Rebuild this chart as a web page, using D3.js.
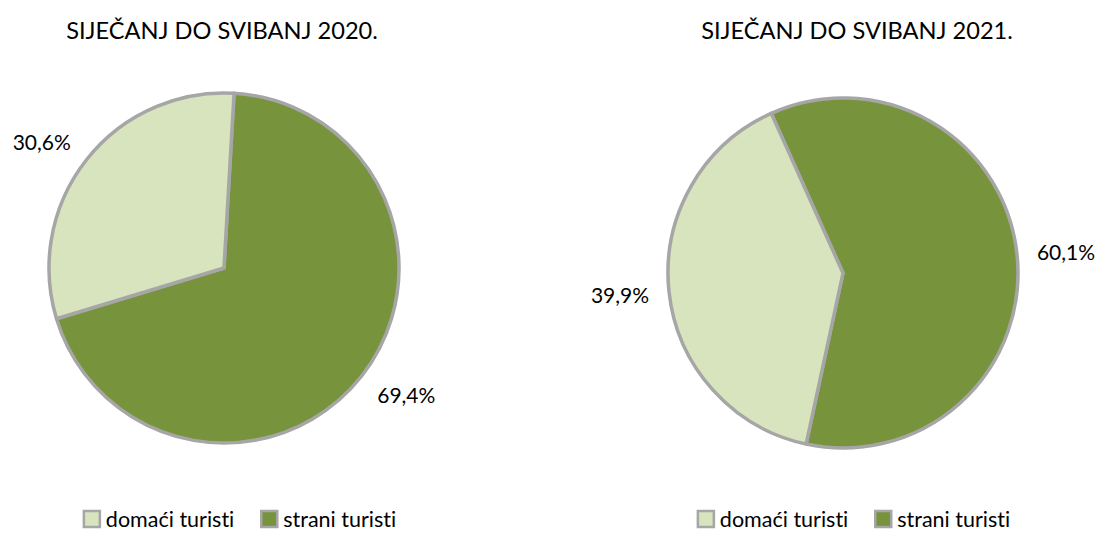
<!DOCTYPE html>
<html>
<head>
<meta charset="UTF-8">
<script src="https://cdn.jsdelivr.net/npm/d3@7"></script>
<style>
  body { margin: 0; background: #fff; }
  text { font-family: Lato, "Open Sans", sans-serif; fill: #000; font-variant-ligatures: none; }
</style>
</head>
<body>
<div id="chart"></div>
<script>
const categories = ['domaći turisti', 'strani turisti']
const titles = ['SIJEČANJ DO SVIBANJ 2020.', 'SIJEČANJ DO SVIBANJ 2021.']
const values2020 = [30.6, 69.4]
const values2021 = [39.9, 60.1]
const labels2020 = ['30,6%', '69,4%']
const labels2021 = ['39,9%', '60,1%']

const width = 1097, height = 533
const colors = d3.scaleOrdinal().domain(categories).range(['#D7E4BD', '#77933C'])
const border = '#A6A6A6'

const svg = d3.select('#chart')
  .append('svg')
  .attr('width', width)
  .attr('height', height)

// one pie per period; strani slice is drawn first (clockwise from its start angle)
const pies = [
  { title: titles[0], values: values2020, labels: labels2020, cx: 224, cy: 268, titleX: 222, legendX: 240, start: 3.3 },
  { title: titles[1], values: values2021, labels: labels2021, cx: 843, cy: 273, titleX: 857, legendX: 854, start: -24.2 }
]
const r = 175

pies.forEach(p => {
  const g = svg.append('g').attr('transform', 'translate(' + p.cx + ',' + p.cy + ')')
  const data = categories.map((c, i) => ({ cat: c, value: p.values[i], label: p.labels[i] }))
  const order = [data[1], data[0]]

  const s = p.start * Math.PI / 180
  const pie = d3.pie()
    .value(d => d.value)
    .sort(null)
    .startAngle(s)
    .endAngle(s + 2 * Math.PI)
  const arc = d3.arc().innerRadius(0).outerRadius(r)
  const labelArc = d3.arc().innerRadius(r + 20).outerRadius(r + 20)

  const arcs = pie(order)

  g.selectAll('path')
    .data(arcs)
    .enter().append('path')
    .attr('d', arc)
    .attr('fill', d => colors(d.data.cat))
    .attr('stroke', border)
    .attr('stroke-width', 3.5)
    .attr('stroke-linejoin', 'round')

  // labels sit just outside the arc, nudged up/down with the slice direction
  g.selectAll('text.lbl')
    .data(arcs)
    .enter().append('text')
    .attr('class', 'lbl')
    .attr('transform', d => {
      const c = labelArc.centroid(d)
      const mid = (d.startAngle + d.endAngle) / 2
      return 'translate(' + c[0] + ',' + (c[1] - Math.cos(mid) * 10) + ')'
    })
    .attr('text-anchor', d => labelArc.centroid(d)[0] < 0 ? 'end' : 'start')
    .attr('dominant-baseline', 'central')
    .style('font-size', '21px')
    .text(d => d.data.label)

  svg.append('text')
    .attr('x', p.titleX)
    .attr('y', 30)
    .attr('text-anchor', 'middle')
    .attr('dominant-baseline', 'central')
    .style('font-size', '23.6px')
    .text(p.title)

  // legend
  const legend = svg.append('g').attr('transform', 'translate(' + p.legendX + ',519)')
  const items = legend.selectAll('g')
    .data(data)
    .enter().append('g')
  items.append('rect')
    .attr('y', -8)
    .attr('width', 16)
    .attr('height', 16)
    .attr('fill', d => colors(d.cat))
    .attr('stroke', border)
    .attr('stroke-width', 2.5)
  items.append('text')
    .attr('x', 22)
    .attr('dominant-baseline', 'central')
    .style('font-size', '21.5px')
    .text(d => d.cat)

  // lay the legend items out side by side and center them
  const gap = 27
  const widths = []
  items.each(function () { widths.push(this.getBBox().width) })
  const total = d3.sum(widths) + gap * (widths.length - 1)
  items.attr('transform', (d, i) => 'translate(' + (d3.sum(widths.slice(0, i)) + gap * i - total / 2) + ',0)')
})
</script>
</body>
</html>
